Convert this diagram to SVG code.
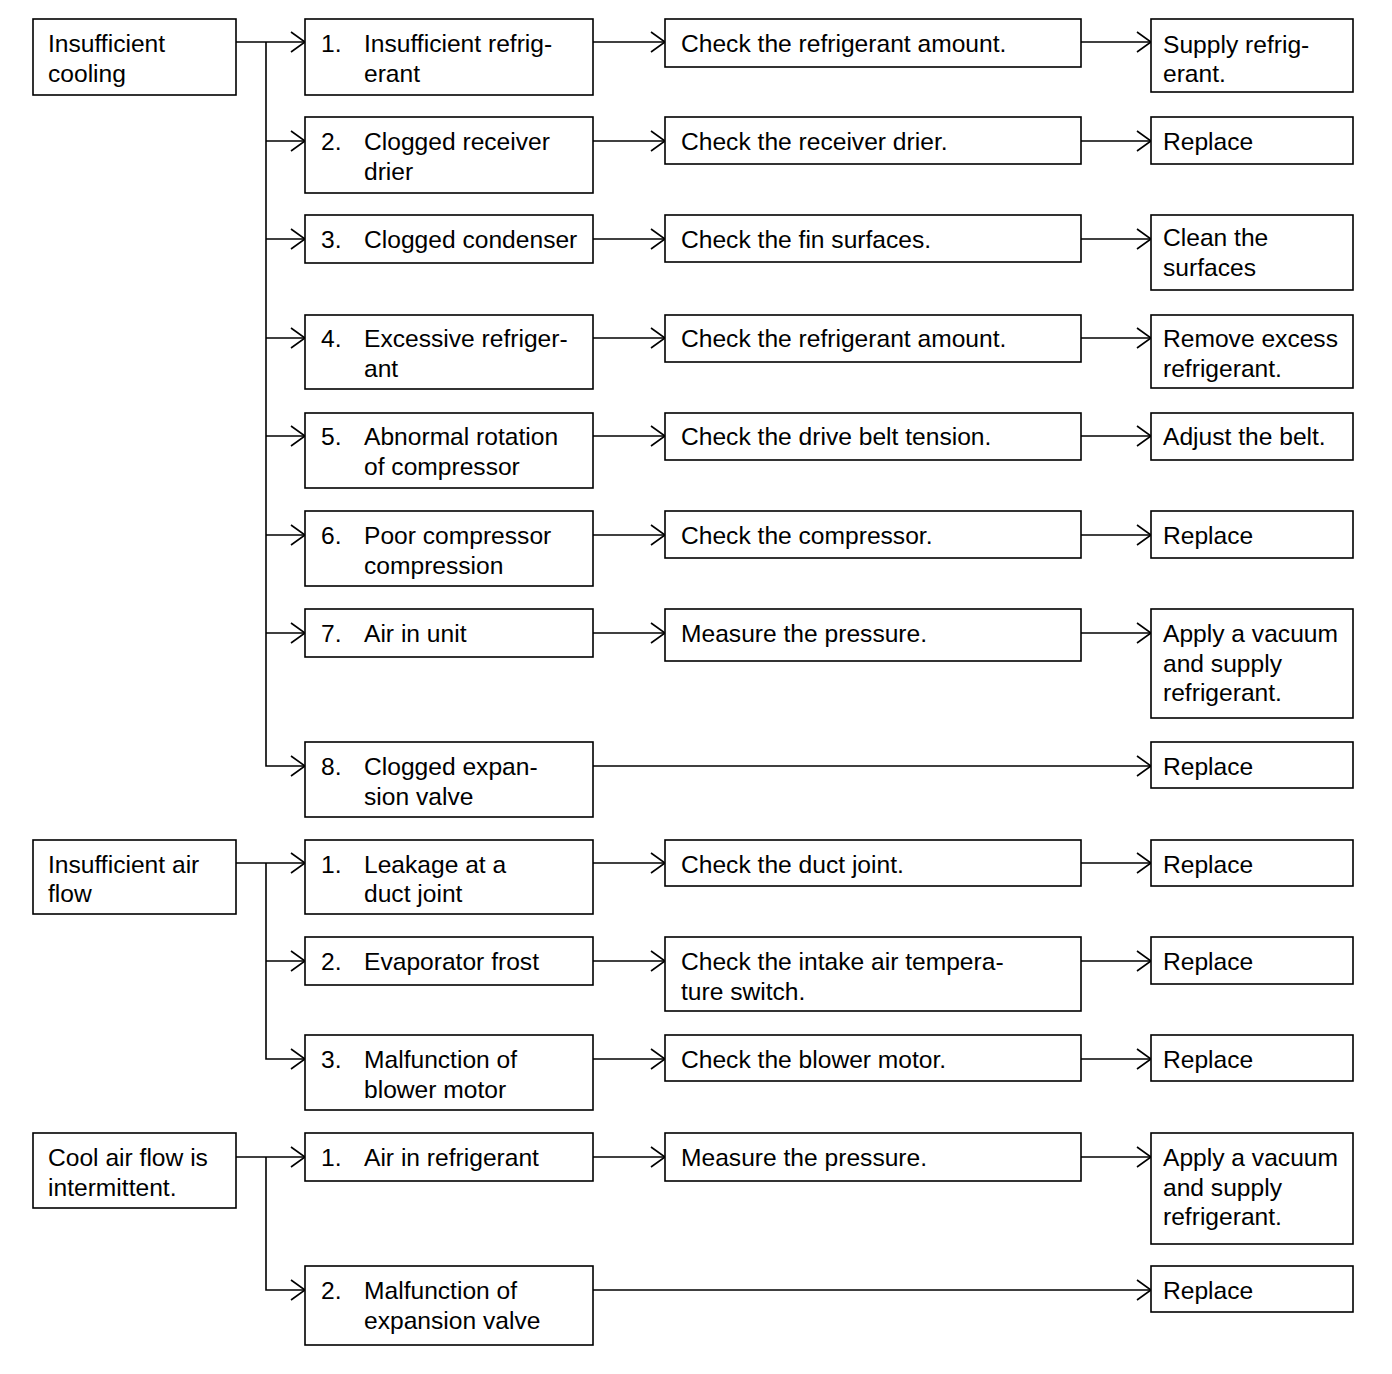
<svg xmlns="http://www.w3.org/2000/svg" width="1392" height="1374" viewBox="0 0 1392 1374">
<style>
rect{fill:#fff;stroke:#000;stroke-width:1.6}
text{font-family:"Liberation Sans",Arial,sans-serif;font-size:24.6px;fill:#000}
.c path,.c line{fill:none;stroke:#000;stroke-width:1.6}
</style>
<defs>
<marker id="a" markerUnits="userSpaceOnUse" markerWidth="20" markerHeight="24" refX="15" refY="11" orient="auto">
<path d="M1,1 L15,11 L1,21" fill="none" stroke="#000" stroke-width="1.6"/>
</marker>
</defs>
<rect width="1392" height="1374" style="fill:#fff;stroke:none"/>
<g class="c">
<path d="M236,42 H305" marker-end="url(#a)"/>
<path d="M266,42 V766 H305" marker-end="url(#a)"/>
<path d="M266,141 H305" marker-end="url(#a)"/>
<path d="M266,239 H305" marker-end="url(#a)"/>
<path d="M266,338 H305" marker-end="url(#a)"/>
<path d="M266,436 H305" marker-end="url(#a)"/>
<path d="M266,535 H305" marker-end="url(#a)"/>
<path d="M266,633 H305" marker-end="url(#a)"/>
<path d="M236,863 H305" marker-end="url(#a)"/>
<path d="M266,863 V1059 H305" marker-end="url(#a)"/>
<path d="M266,961 H305" marker-end="url(#a)"/>
<path d="M236,1157 H305" marker-end="url(#a)"/>
<path d="M266,1157 V1290 H305" marker-end="url(#a)"/>
<path d="M593,42 H665" marker-end="url(#a)"/>
<path d="M593,141 H665" marker-end="url(#a)"/>
<path d="M593,239 H665" marker-end="url(#a)"/>
<path d="M593,338 H665" marker-end="url(#a)"/>
<path d="M593,436 H665" marker-end="url(#a)"/>
<path d="M593,535 H665" marker-end="url(#a)"/>
<path d="M593,633 H665" marker-end="url(#a)"/>
<path d="M593,863 H665" marker-end="url(#a)"/>
<path d="M593,961 H665" marker-end="url(#a)"/>
<path d="M593,1059 H665" marker-end="url(#a)"/>
<path d="M593,1157 H665" marker-end="url(#a)"/>
<path d="M1081,42 H1151" marker-end="url(#a)"/>
<path d="M1081,141 H1151" marker-end="url(#a)"/>
<path d="M1081,239 H1151" marker-end="url(#a)"/>
<path d="M1081,338 H1151" marker-end="url(#a)"/>
<path d="M1081,436 H1151" marker-end="url(#a)"/>
<path d="M1081,535 H1151" marker-end="url(#a)"/>
<path d="M1081,633 H1151" marker-end="url(#a)"/>
<path d="M593,766 H1151" marker-end="url(#a)"/>
<path d="M1081,863 H1151" marker-end="url(#a)"/>
<path d="M1081,961 H1151" marker-end="url(#a)"/>
<path d="M1081,1059 H1151" marker-end="url(#a)"/>
<path d="M1081,1157 H1151" marker-end="url(#a)"/>
<path d="M593,1290 H1151" marker-end="url(#a)"/>
</g>

<g id="s1"><rect x="33" y="19" width="203" height="76"/><text x="48" y="52">Insufficient</text><text x="48" y="82">cooling</text></g>
<g id="s2"><rect x="33" y="840" width="203" height="74"/><text x="48" y="873">Insufficient air</text><text x="48" y="902">flow</text></g>
<g id="s3"><rect x="33" y="1133" width="203" height="75"/><text x="48" y="1166">Cool air flow is</text><text x="48" y="1196">intermittent.</text></g>

<g id="c1"><rect x="305" y="19" width="288" height="76"/><text x="321" y="52">1.</text><text x="364" y="52">Insufficient refrig-</text><text x="364" y="82">erant</text></g>
<g id="c2"><rect x="305" y="117" width="288" height="76"/><text x="321" y="150">2.</text><text x="364" y="150">Clogged receiver</text><text x="364" y="180">drier</text></g>
<g id="c3"><rect x="305" y="215" width="288" height="48"/><text x="321" y="248">3.</text><text x="364" y="248">Clogged condenser</text></g>
<g id="c4"><rect x="305" y="315" width="288" height="74"/><text x="321" y="347">4.</text><text x="364" y="347">Excessive refriger-</text><text x="364" y="377">ant</text></g>
<g id="c5"><rect x="305" y="413" width="288" height="75"/><text x="321" y="445">5.</text><text x="364" y="445">Abnormal rotation</text><text x="364" y="475">of compressor</text></g>
<g id="c6"><rect x="305" y="511" width="288" height="75"/><text x="321" y="544">6.</text><text x="364" y="544">Poor compressor</text><text x="364" y="574">compression</text></g>
<g id="c7"><rect x="305" y="609" width="288" height="48"/><text x="321" y="642">7.</text><text x="364" y="642">Air in unit</text></g>
<g id="c8"><rect x="305" y="742" width="288" height="75"/><text x="321" y="775">8.</text><text x="364" y="775">Clogged expan-</text><text x="364" y="805">sion valve</text></g>
<g id="c9"><rect x="305" y="840" width="288" height="74"/><text x="321" y="873">1.</text><text x="364" y="873">Leakage at a</text><text x="364" y="902">duct joint</text></g>
<g id="c10"><rect x="305" y="937" width="288" height="48"/><text x="321" y="970">2.</text><text x="364" y="970">Evaporator frost</text></g>
<g id="c11"><rect x="305" y="1035" width="288" height="75"/><text x="321" y="1068">3.</text><text x="364" y="1068">Malfunction of</text><text x="364" y="1098">blower motor</text></g>
<g id="c12"><rect x="305" y="1133" width="288" height="48"/><text x="321" y="1166">1.</text><text x="364" y="1166">Air in refrigerant</text></g>
<g id="c13"><rect x="305" y="1266" width="288" height="79"/><text x="321" y="1299">2.</text><text x="364" y="1299">Malfunction of</text><text x="364" y="1329">expansion valve</text></g>

<g id="k1"><rect x="665" y="19" width="416" height="48"/><text x="681" y="52">Check the refrigerant amount.</text></g>
<g id="k2"><rect x="665" y="117" width="416" height="47"/><text x="681" y="150">Check the receiver drier.</text></g>
<g id="k3"><rect x="665" y="215" width="416" height="47"/><text x="681" y="248">Check the fin surfaces.</text></g>
<g id="k4"><rect x="665" y="315" width="416" height="47"/><text x="681" y="347">Check the refrigerant amount.</text></g>
<g id="k5"><rect x="665" y="413" width="416" height="47"/><text x="681" y="445">Check the drive belt tension.</text></g>
<g id="k6"><rect x="665" y="511" width="416" height="47"/><text x="681" y="544">Check the compressor.</text></g>
<g id="k7"><rect x="665" y="609" width="416" height="52"/><text x="681" y="642">Measure the pressure.</text></g>
<g id="k8"><rect x="665" y="840" width="416" height="46"/><text x="681" y="873">Check the duct joint.</text></g>
<g id="k9"><rect x="665" y="937" width="416" height="74"/><text x="681" y="970">Check the intake air tempera-</text><text x="681" y="1000">ture switch.</text></g>
<g id="k10"><rect x="665" y="1035" width="416" height="46"/><text x="681" y="1068">Check the blower motor.</text></g>
<g id="k11"><rect x="665" y="1133" width="416" height="48"/><text x="681" y="1166">Measure the pressure.</text></g>

<g id="r1"><rect x="1151" y="19" width="202" height="73"/><text x="1163" y="53">Supply refrig-</text><text x="1163" y="82">erant.</text></g>
<g id="r2"><rect x="1151" y="117" width="202" height="47"/><text x="1163" y="150">Replace</text></g>
<g id="r3"><rect x="1151" y="215" width="202" height="75"/><text x="1163" y="246">Clean the</text><text x="1163" y="276">surfaces</text></g>
<g id="r4"><rect x="1151" y="315" width="202" height="73"/><text x="1163" y="347">Remove excess</text><text x="1163" y="377">refrigerant.</text></g>
<g id="r5"><rect x="1151" y="413" width="202" height="47"/><text x="1163" y="445">Adjust the belt.</text></g>
<g id="r6"><rect x="1151" y="511" width="202" height="47"/><text x="1163" y="544">Replace</text></g>
<g id="r7"><rect x="1151" y="609" width="202" height="109"/><text x="1163" y="642">Apply a vacuum</text><text x="1163" y="672">and supply</text><text x="1163" y="701">refrigerant.</text></g>
<g id="r8"><rect x="1151" y="742" width="202" height="46"/><text x="1163" y="775">Replace</text></g>
<g id="r9"><rect x="1151" y="840" width="202" height="46"/><text x="1163" y="873">Replace</text></g>
<g id="r10"><rect x="1151" y="937" width="202" height="47"/><text x="1163" y="970">Replace</text></g>
<g id="r11"><rect x="1151" y="1035" width="202" height="46"/><text x="1163" y="1068">Replace</text></g>
<g id="r12"><rect x="1151" y="1133" width="202" height="111"/><text x="1163" y="1166">Apply a vacuum</text><text x="1163" y="1196">and supply</text><text x="1163" y="1225">refrigerant.</text></g>
<g id="r13"><rect x="1151" y="1266" width="202" height="46"/><text x="1163" y="1299">Replace</text></g>
</svg>
